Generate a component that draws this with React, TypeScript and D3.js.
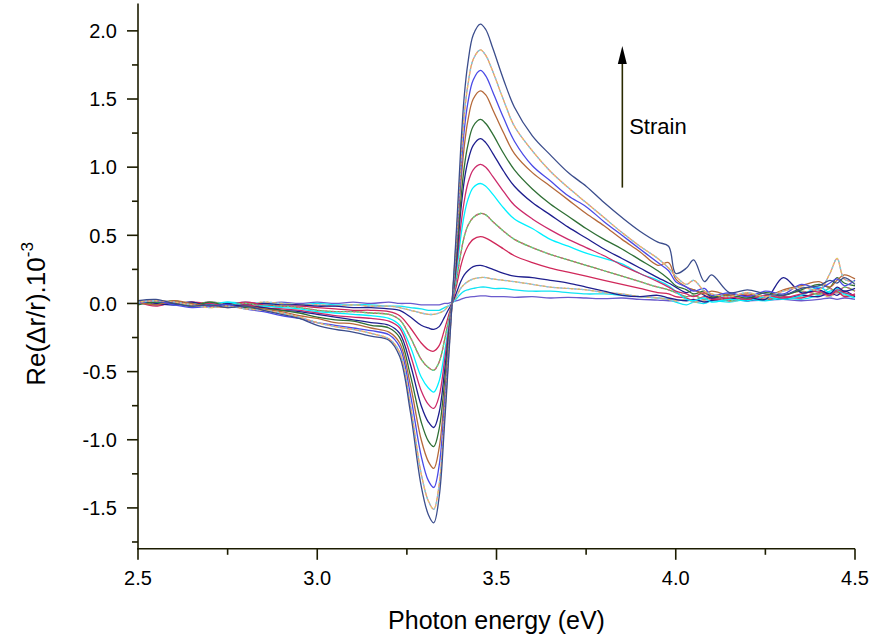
import React from "react";
import * as d3 from "d3";

// Photon energy grid (eV)
const energy = [
  2.5, 2.55, 2.6, 2.65, 2.7, 2.75, 2.8, 2.85, 2.9, 2.95, 3.0, 3.05, 3.1, 3.15, 3.2,
  3.23, 3.26, 3.29, 3.31, 3.325, 3.34, 3.355, 3.365, 3.376,
  3.39, 3.4, 3.41, 3.42, 3.435, 3.455, 3.47, 3.49, 3.52, 3.55,
  3.6, 3.65, 3.7, 3.75, 3.8, 3.85, 3.9, 3.95, 3.98, 4.0,
  4.03, 4.05, 4.08, 4.1, 4.15, 4.2, 4.25, 4.3, 4.35, 4.4,
  4.43, 4.45, 4.47, 4.5,
];

// Re(Δr/r)·10^-3 for increasing strain
const s1 = [0.02, 0.03, 0.0, -0.02, -0.01, -0.03, -0.02, -0.05, -0.08, -0.11, -0.16, -0.19, -0.21, -0.24, -0.27,
  -0.39, -0.8, -1.34, -1.55, -1.61, -1.42, -0.89, -0.47, 0.0,
  0.62, 1.13, 1.52, 1.76, 1.97, 2.05, 2.01, 1.87, 1.64, 1.44,
  1.23, 1.09, 0.96, 0.86, 0.74, 0.63, 0.53, 0.45, 0.42, 0.22,
  0.26, 0.32, 0.16, 0.21, 0.08, 0.1, 0.07, 0.06, 0.11, 0.13,
  0.17, 0.15, 0.19, 0.14];
const s2 = [0.01, 0.02, 0.01, -0.01, -0.03, -0.02, -0.04, -0.05, -0.07, -0.1, -0.14, -0.17, -0.19, -0.22, -0.26,
  -0.36, -0.75, -1.25, -1.45, -1.51, -1.33, -0.83, -0.44, 0.0,
  0.56, 1.02, 1.38, 1.6, 1.79, 1.86, 1.82, 1.7, 1.49, 1.3,
  1.12, 0.97, 0.85, 0.74, 0.63, 0.52, 0.42, 0.33, 0.26, 0.2,
  0.14, 0.17, 0.09, 0.07, 0.05, 0.08, 0.05, 0.09, 0.12, 0.1,
  0.22, 0.33, 0.18, 0.16];
const s3 = [0.0, 0.02, -0.01, -0.03, -0.02, -0.01, -0.04, -0.06, -0.09, -0.11, -0.14, -0.16, -0.18, -0.2, -0.23,
  -0.32, -0.67, -1.12, -1.3, -1.35, -1.19, -0.74, -0.39, 0.0,
  0.51, 0.94, 1.27, 1.47, 1.64, 1.71, 1.67, 1.55, 1.36, 1.19,
  1.01, 0.9, 0.79, 0.71, 0.6, 0.5, 0.4, 0.3, 0.24, 0.16,
  0.12, 0.09, 0.11, 0.06, 0.08, 0.05, 0.09, 0.07, 0.14, 0.11,
  0.15, 0.18, 0.13, 0.17];
const s4 = [0.01, -0.01, 0.02, 0.0, -0.02, -0.03, -0.02, -0.04, -0.06, -0.09, -0.11, -0.14, -0.15, -0.18, -0.21,
  -0.29, -0.6, -1.0, -1.16, -1.21, -1.06, -0.67, -0.35, 0.0,
  0.47, 0.86, 1.15, 1.34, 1.5, 1.56, 1.53, 1.42, 1.25, 1.1,
  0.96, 0.86, 0.76, 0.66, 0.57, 0.47, 0.38, 0.28, 0.3, 0.18,
  0.12, 0.1, 0.07, 0.09, 0.06, 0.07, 0.05, 0.1, 0.13, 0.16,
  0.12, 0.17, 0.21, 0.18];
const s5 = [-0.01, 0.01, 0.0, -0.02, 0.01, -0.02, -0.03, -0.04, -0.05, -0.07, -0.1, -0.12, -0.13, -0.16, -0.18,
  -0.25, -0.53, -0.87, -1.01, -1.05, -0.92, -0.58, -0.3, 0.0,
  0.41, 0.74, 1.0, 1.16, 1.3, 1.35, 1.32, 1.24, 1.1, 0.98,
  0.84, 0.73, 0.64, 0.55, 0.47, 0.4, 0.32, 0.24, 0.18, 0.13,
  0.1, 0.07, 0.09, 0.05, 0.06, 0.04, 0.08, 0.06, 0.1, 0.14,
  0.12, 0.19, 0.15, 0.13];
const s6 = [0.02, 0.0, -0.01, 0.01, -0.02, -0.01, -0.02, -0.03, -0.05, -0.06, -0.08, -0.1, -0.12, -0.14, -0.16,
  -0.22, -0.45, -0.75, -0.87, -0.91, -0.8, -0.5, -0.26, 0.0,
  0.36, 0.67, 0.9, 1.04, 1.16, 1.21, 1.18, 1.1, 0.97, 0.86,
  0.74, 0.65, 0.56, 0.48, 0.4, 0.33, 0.26, 0.19, 0.15, 0.12,
  0.08, 0.1, 0.06, 0.04, 0.07, 0.05, 0.03, 0.19, 0.08, 0.1,
  0.07, 0.12, 0.09, 0.11];
const s7 = [0.01, -0.02, 0.01, -0.01, 0.0, -0.02, -0.01, -0.03, -0.04, -0.05, -0.07, -0.09, -0.1, -0.11, -0.13,
  -0.18, -0.38, -0.64, -0.74, -0.77, -0.68, -0.42, -0.22, 0.0,
  0.31, 0.56, 0.75, 0.88, 0.98, 1.02, 1.0, 0.93, 0.82, 0.72,
  0.62, 0.54, 0.47, 0.41, 0.35, 0.28, 0.22, 0.16, 0.12, 0.09,
  0.07, 0.05, 0.08, 0.04, 0.05, 0.03, 0.06, 0.04, 0.07, 0.09,
  0.06, 0.1, 0.08, 0.06];
const s8 = [0.0, 0.01, -0.01, 0.0, -0.01, 0.01, -0.02, -0.02, -0.03, -0.04, -0.06, -0.07, -0.08, -0.09, -0.11,
  -0.16, -0.32, -0.54, -0.62, -0.65, -0.57, -0.36, -0.19, 0.0,
  0.26, 0.48, 0.65, 0.76, 0.85, 0.88, 0.86, 0.8, 0.7, 0.62,
  0.55, 0.47, 0.42, 0.37, 0.33, 0.29, 0.22, 0.17, 0.13, 0.09,
  0.03, 0.02, 0.04, 0.01, 0.03, 0.02, 0.05, 0.03, 0.06, 0.12,
  0.08, 0.1, 0.07, 0.04];
const s9 = [0.01, 0.0, 0.02, -0.01, 0.01, -0.01, 0.0, -0.02, -0.02, -0.03, -0.05, -0.06, -0.06, -0.07, -0.08,
  -0.12, -0.25, -0.41, -0.47, -0.49, -0.43, -0.27, -0.14, 0.0,
  0.2, 0.36, 0.49, 0.57, 0.63, 0.66, 0.65, 0.6, 0.53, 0.47,
  0.41, 0.36, 0.32, 0.28, 0.24, 0.2, 0.16, 0.12, 0.1, 0.08,
  0.05, 0.06, 0.03, 0.05, 0.02, 0.04, 0.03, 0.06, 0.09, 0.07,
  0.11, 0.08, 0.12, 0.09];
const s10 = [0.0, 0.01, -0.01, 0.01, 0.0, -0.01, 0.01, -0.01, -0.02, -0.02, -0.03, -0.04, -0.05, -0.05, -0.06,
  -0.09, -0.18, -0.29, -0.34, -0.35, -0.31, -0.19, -0.1, 0.0,
  0.15, 0.27, 0.36, 0.42, 0.47, 0.49, 0.48, 0.45, 0.4, 0.35,
  0.3, 0.26, 0.23, 0.2, 0.17, 0.14, 0.11, 0.08, 0.07, 0.05,
  0.04, 0.02, 0.05, 0.03, 0.04, 0.06, 0.03, 0.05, 0.04, 0.08,
  0.06, 0.09, 0.05, 0.07];
const s11 = [0.01, -0.01, 0.0, 0.01, -0.01, 0.0, -0.01, 0.0, -0.01, -0.01, -0.02, -0.02, -0.03, -0.03, -0.04,
  -0.05, -0.1, -0.16, -0.18, -0.19, -0.17, -0.1, -0.05, 0.0,
  0.09, 0.16, 0.21, 0.24, 0.27, 0.28, 0.27, 0.25, 0.22, 0.2,
  0.19, 0.17, 0.15, 0.12, 0.09, 0.06, 0.05, 0.06, 0.04, 0.03,
  0.02, 0.03, 0.01, 0.02, 0.04, 0.02, 0.05, 0.03, 0.06, 0.05,
  0.08, 0.06, 0.09, 0.05];
const s12 = [0.02, 0.0, 0.01, -0.01, 0.01, 0.0, -0.01, 0.01, 0.0, -0.01, -0.01, -0.02, -0.01, -0.02, -0.02,
  -0.03, -0.05, -0.07, -0.08, -0.08, -0.07, -0.05, -0.02, 0.0,
  0.06, 0.11, 0.14, 0.16, 0.18, 0.19, 0.19, 0.18, 0.17, 0.16,
  0.14, 0.12, 0.11, 0.1, 0.08, 0.07, 0.05, 0.04, 0.03, 0.02,
  0.03, 0.01, 0.02, 0.04, 0.02, 0.03, 0.06, 0.04, 0.05, 0.07,
  0.05, 0.08, 0.06, 0.05];
const s13 = [0.0, 0.01, 0.0, 0.0, -0.01, 0.01, 0.0, -0.01, 0.0, -0.01, 0.0, -0.01, -0.01, -0.01, -0.02,
  -0.02, -0.03, -0.04, -0.05, -0.05, -0.05, -0.03, -0.02, 0.0,
  0.04, 0.07, 0.09, 0.1, 0.11, 0.12, 0.12, 0.11, 0.11, 0.1,
  0.09, 0.09, 0.08, 0.07, 0.07, 0.06, 0.05, 0.04, 0.03, 0.01,
  -0.01, 0.01, 0.0, 0.02, 0.01, 0.03, 0.02, 0.04, 0.03, 0.06,
  0.09, 0.11, 0.08, 0.06];
const s14 = [0.01, 0.02, 0.01, 0.0, 0.01, 0.0, 0.01, 0.0, 0.01, 0.0, 0.01, 0.0, 0.01, 0.0, 0.01,
  0.0, 0.0, -0.01, -0.01, -0.01, -0.01, 0.0, 0.0, 0.01,
  0.02, 0.03, 0.04, 0.045, 0.05, 0.055, 0.055, 0.05, 0.05, 0.045,
  0.05, 0.04, 0.045, 0.04, 0.035, 0.04, 0.03, 0.025, 0.02, 0.02,
  0.025, 0.02, 0.015, 0.02, 0.03, 0.02, 0.025, 0.03, 0.02, 0.03,
  0.04, 0.03, 0.04, 0.03];

const seriesValues = [s14, s13, s12, s11, s10, s9, s8, s7, s6, s5, s4, s3, s2, s1];
const seriesColors = [
  "#6a5acd", "#10e4f4", "#d89c9c", "#20208e", "#d0285a", "#82a03c", "#00f0ff",
  "#cc2a6a", "#1e1e8e", "#2f6f35", "#b5693a", "#4a4ae6", "#e08686", "#3b4d8c",
];
// speckle overlay colours for the multicolour traces (null = plain)
const seriesSpeckle = [
  null, null, ["#70d8e8", "#c8c860"], null, null, ["#d060a0", "#60c8a0"], null,
  null, null, null, null, null, ["#70dce0", "#e0d060"], null,
];

const xMajor = [2.5, 3.0, 3.5, 4.0, 4.5];
const xMinor = [2.75, 3.25, 3.75, 4.25];
const yMajor = [-1.5, -1.0, -0.5, 0.0, 0.5, 1.0, 1.5, 2.0];
const yMinor = [-1.75, -1.25, -0.75, -0.25, 0.25, 0.75, 1.25, 1.75];

const W = 874;
const H = 639;
const AX = "#1c1c00";
const FONT = "'Liberation Sans', Arial, sans-serif";

export default function App() {
  const x = d3.scaleLinear().domain([2.5, 4.5]).range([138, 855]);
  const y = d3.scaleLinear().domain([-1.8, 2.2]).range([548.8, 3.6]);
  const line = d3
    .line<number>()
    .x((_, i) => x(energy[i]))
    .y((v) => y(v))
    .curve(d3.curveCatmullRom.alpha(0.5));

  const x0 = x(2.5);
  const yBase = y(-1.8);
  const ax = x(3.851);

  return (
    <svg
      width={W}
      height={H}
      style={{ position: "absolute", left: 0, top: 0, background: "#fff" }}
      fontFamily={FONT}
    >
      <rect width={W} height={H} fill="#fff" />
      {/* curves */}
      <g fill="none" strokeWidth={1.3} strokeLinejoin="round">
        {seriesValues.map((vals, k) => {
          const d = line(vals) || "";
          const sp = seriesSpeckle[k];
          return (
            <g key={k}>
              <path d={d} stroke={seriesColors[k]} />
              {sp && (
                <>
                  <path d={d} stroke={sp[0]} strokeDasharray="2 5" />
                  <path d={d} stroke={sp[1]} strokeDasharray="2 5" strokeDashoffset={3.5} />
                </>
              )}
            </g>
          );
        })}
      </g>

      {/* axes */}
      <g stroke={AX} strokeWidth={1.6}>
        <line x1={x0} x2={x0} y1={y(2.2)} y2={yBase + 0.8} />
        <line x1={x0 - 0.8} x2={x(4.5)} y1={yBase} y2={yBase} />
        {yMajor.map((v) => (
          <line key={"ym" + v} x1={x0 - 11} x2={x0} y1={y(v)} y2={y(v)} />
        ))}
        {yMinor.map((v) => (
          <line key={"yn" + v} x1={x0 - 6} x2={x0} y1={y(v)} y2={y(v)} />
        ))}
        {xMajor.map((v) => (
          <line key={"xm" + v} x1={x(v)} x2={x(v)} y1={yBase} y2={yBase + 11} />
        ))}
        {xMinor.map((v) => (
          <line key={"xn" + v} x1={x(v)} x2={x(v)} y1={yBase} y2={yBase + 6} />
        ))}
      </g>
      <g fontSize={20} fill="#000">
        {yMajor.map((v) => (
          <text key={"yl" + v} x={x0 - 21} y={y(v)} dy="0.36em" textAnchor="end">
            {v.toFixed(1)}
          </text>
        ))}
        {xMajor.map((v) => (
          <text key={"xl" + v} x={x(v)} y={yBase + 36} textAnchor="middle">
            {v.toFixed(1)}
          </text>
        ))}
      </g>

      {/* axis titles */}
      <text x={(x0 + x(4.5)) / 2} y={629} fontSize={25} textAnchor="middle" fill="#000">
        Photon energy (eV)
      </text>
      <text
        transform={`translate(45, 314) rotate(-90)`}
        fontSize={26}
        textAnchor="middle"
        fill="#000"
      >
        Re(Δr/r).10
        <tspan fontSize={17} dy={-12}>-3</tspan>
      </text>

      {/* strain arrow */}
      <line x1={ax} x2={ax} y1={y(0.85)} y2={y(1.8)} stroke="#2a2a00" strokeWidth={1.6} />
      <path
        d={`M${ax},${y(1.8) - 12} L${ax - 4.5},${y(1.8) + 6} L${ax + 4.5},${y(1.8) + 6} Z`}
        fill="#000"
      />
      <text x={x(3.87)} y={y(1.3)} fontSize={22} fill="#000" dy="0.35em">
        Strain
      </text>
    </svg>
  );
}
